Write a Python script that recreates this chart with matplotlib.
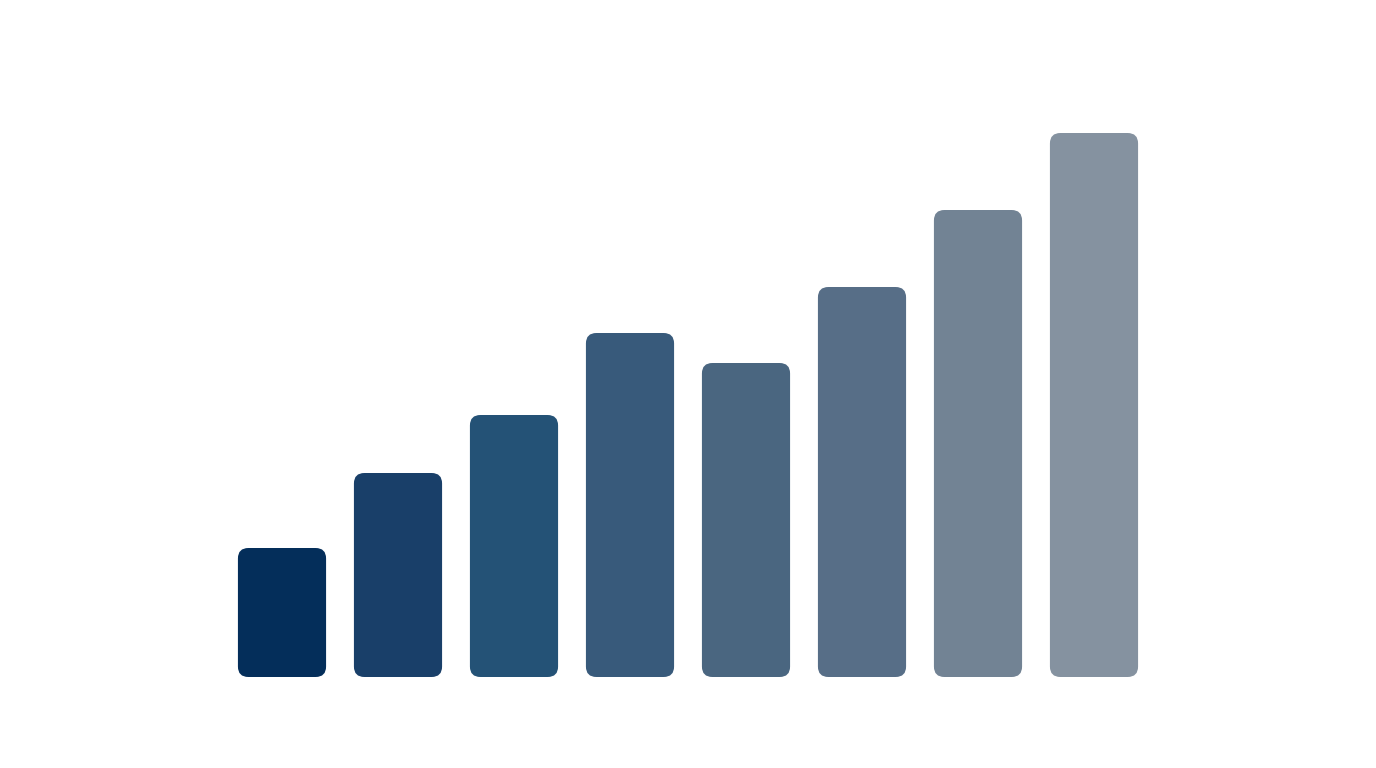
import matplotlib.pyplot as plt
from matplotlib.patches import FancyBboxPatch

# bar values (arbitrary units)
categories = ['A', 'B', 'C', 'D', 'E', 'F', 'G', 'H']
values = [129, 204, 262, 344, 314, 390, 467, 544]
colors = ['#042e5a', '#193f69', '#245276', '#385a7b', '#4a6680',
          '#576e87', '#728394', '#8592a0']

fig = plt.figure(figsize=(13.76, 7.68), dpi=100)
ax = fig.add_axes([0, 0, 1, 1])

bar_w = 0.76
for i, (v, c) in enumerate(zip(values, colors)):
    box = FancyBboxPatch((i - bar_w / 2, 0), bar_w, v,
                         boxstyle='round,pad=0,rounding_size=0.09',
                         mutation_aspect=116, fc=c, ec='none')
    ax.add_patch(box)

ax.set_xlim(-282 / 116, (1376 - 282) / 116)
ax.set_ylim(-91, 677)
ax.axis('off')

fig.savefig('out.png', dpi=100, facecolor='white')
